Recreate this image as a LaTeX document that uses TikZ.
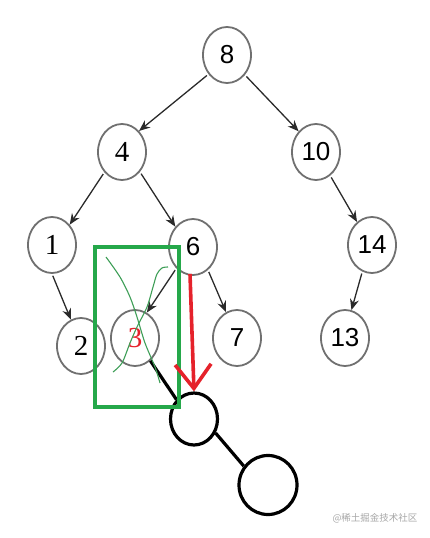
\documentclass[tikz,border=0pt]{standalone}
\usepackage{fontspec}
\usetikzlibrary{arrows.meta,shapes.geometric}
\newfontfamily\sansdig{Liberation Sans}
\newfontfamily\serifdig{Liberation Serif}
\newfontfamily\cjk{Noto Sans CJK SC}
\definecolor{nodegray}{HTML}{707070}
\definecolor{arrowgray}{HTML}{2A2A2A}
\definecolor{boxgreen}{HTML}{25A84A}
\definecolor{scribble}{HTML}{3E9E57}
\definecolor{markred}{HTML}{E5222B}
\tikzset{
  tnode/.style={ellipse, draw=nodegray, line width=1.8pt, minimum width=48pt, minimum height=56pt, inner sep=0pt},
  sdig/.style={font=\sansdig\fontsize{26}{26}\selectfont},
  rdig/.style={font=\serifdig\fontsize{29}{29}\selectfont},
  tarrow/.style={draw=arrowgray, line width=1.3pt, -{Stealth[length=11pt,width=9pt]}, shorten <=2pt},
  bcircle/.style={ellipse, draw=black, line width=3.2pt, inner sep=0pt},
  bline/.style={draw=black, line width=3.2pt},
}
\begin{document}
\begin{tikzpicture}[x=1pt,y=-1pt]
\useasboundingbox (0,0) rectangle (429,538);
% tree nodes
\node[tnode,sdig] (n8) at (227,55) {8};
\node[tnode,rdig] (n4) at (122,152) {4};
\node[tnode,sdig] (n10) at (316,152) {10};
\node[tnode,rdig] (n1) at (52,245) {1};
\node[tnode,sdig] (n6) at (193,247) {6};
\node[tnode,sdig] (n14) at (372,245) {14};
\node[tnode,rdig] (n2) at (81,346) {2};
\node[tnode,rdig,text=markred] (n3) at (135,338) {3};
\node[tnode,sdig] (n7) at (237,338) {7};
\node[tnode,sdig] (n13) at (345,338) {13};
% tree arrows
\draw[tarrow] (n8.226) -- (n4.51);
\draw[tarrow] (n8.312) -- (n10.130);
\draw[tarrow] (n4.229) -- (n1.49);
\draw[tarrow] (n4.312) -- (n6.131);
\draw[tarrow] (n10.301) -- (n14.123);
\draw[tarrow] (n1.270) -- (n2.111);
\draw[tarrow] (n14.250) -- (n13.77);
\draw[tarrow] (n6.232) -- (n3.65);
\draw[tarrow] (n6.303) -- (n7.113);
% new black circles
\node[bcircle, minimum width=47pt, minimum height=52pt] (c1) at (194,419) {};
\node[bcircle, minimum width=58pt, minimum height=59pt] (c2) at (268,485) {};
\draw[bline] (c1.327) -- (c2.142);
\draw[bline] (n3.304) -- (c1.132);
% green scribbles
\draw[scribble, line width=1.1pt] plot[smooth] coordinates {(106,257) (120,277) (130,297) (137,317) (145,343) (155,367) (160,383)};
\draw[scribble, line width=1.1pt] plot[smooth] coordinates {(168,267) (162,268) (157,274) (153,287) (147,307) (137,327) (130,343) (122,363) (113,372)};
% green box
\draw[boxgreen, line width=3.6pt] (95,247) rectangle (179,407);
% red arrow
\coordinate (redtop) at (190,274);
\draw[markred, line width=3.6pt, -{Straight Barb[length=24pt,width=36pt]}] (redtop) -- (c1.north);
% watermark
\node[text=gray!70, font=\cjk\fontsize{9.5}{10}\selectfont] (wm) at (375,518) {@稀土掘金技术社区};
\end{tikzpicture}
\end{document}
